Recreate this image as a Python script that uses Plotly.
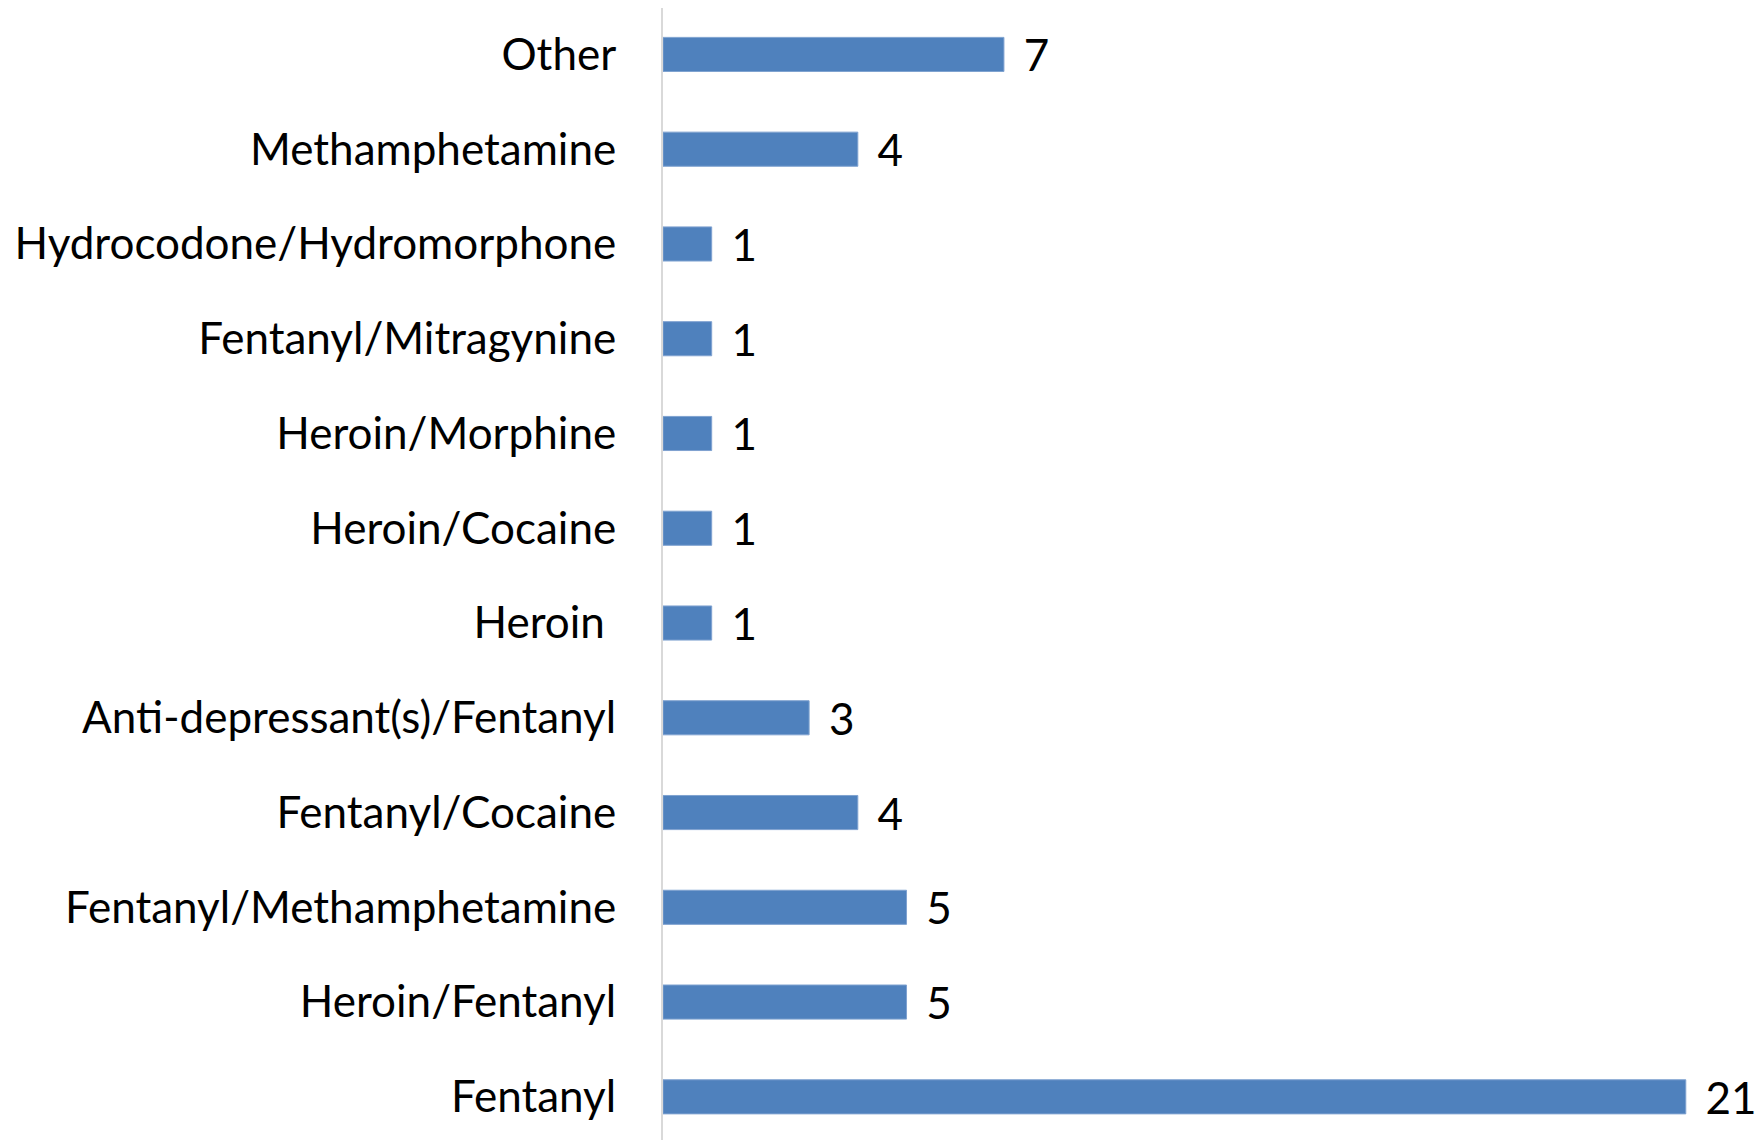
import plotly.graph_objects as go

categories = ["Fentanyl", "Heroin/Fentanyl", "Fentanyl/Methamphetamine", "Fentanyl/Cocaine",
              "Anti-depressant(s)/Fentanyl", "Heroin\u00a0", "Heroin/Cocaine", "Heroin/Morphine",
              "Fentanyl/Mitragynine", "Hydrocodone/Hydromorphone", "Methamphetamine", "Other"]
counts = [21, 5, 5, 4, 3, 1, 1, 1, 1, 1, 4, 7]

fig = go.Figure()
fig.add_trace(go.Bar(
    x=counts, y=categories, orientation="h",
    marker=dict(color="#4F81BD", line=dict(color="#7FA2D0", width=1)),
    text=["\u00a0\u2009" + str(v) for v in counts], textposition="outside",
    constraintext="none",
    textfont=dict(size=44, color="#000000", family="Lato"),
    cliponaxis=False, width=0.36,
))

# page body has an 8px margin, so the plot is nudged up/left to line up
fig.update_layout(
    width=1764, height=1140,
    margin=dict(l=655, r=0, t=0, b=0),
    plot_bgcolor="white", paper_bgcolor="white",
    showlegend=False,
    font=dict(family="Lato", size=44, color="#000000"),
)
fig.update_xaxes(range=[0, 22.77], visible=False, showgrid=False, automargin=False)
fig.update_yaxes(range=[-0.54, 11.49], showgrid=False, showline=True, linecolor="#D9D9D9", linewidth=2,
                 ticks="", ticklabelstandoff=36, automargin=False,
                 tickfont=dict(size=44, color="#000000"))

fig.write_html("out.html")
